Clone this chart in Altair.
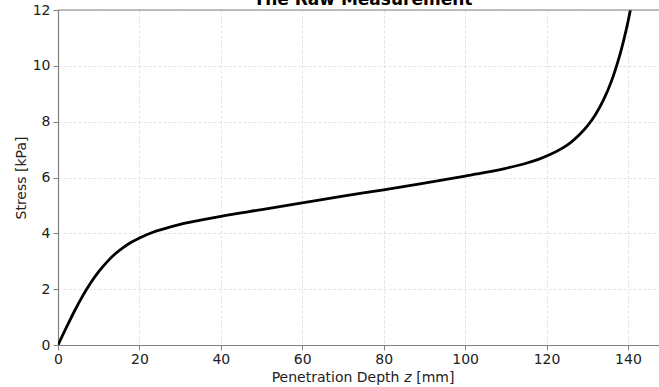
import altair as alt
import pandas as pd

# Data
depth_mm = [0, 2, 4, 6, 8, 10, 12, 14, 16, 18, 20, 23, 26, 30, 35, 40, 50, 60, 70, 80,
            90, 100, 105, 110, 115, 118, 121, 124, 126, 128, 130, 132, 134, 136, 137,
            138, 139, 140, 141]
stress_kpa = [0, 0.61, 1.20, 1.74, 2.22, 2.63, 2.97, 3.26, 3.49, 3.68, 3.83, 4.02, 4.16,
              4.32, 4.47, 4.61, 4.85, 5.09, 5.33, 5.56, 5.80, 6.05, 6.18, 6.33, 6.51, 6.65,
              6.83, 7.06, 7.26, 7.52, 7.84, 8.25, 8.78, 9.47, 9.90, 10.38, 10.94, 11.57, 12.3]
x_ticks = [0, 20, 40, 60, 80, 100, 120, 140]
y_ticks = [0, 2, 4, 6, 8, 10, 12]
title_text = "The Raw Measurement"
xlabel_parts = ["Penetration Depth", "z", "[mm]"]
ylabel = "Stress [kPa]"

df = pd.DataFrame({"z": depth_mm, "s": stress_kpa})

W, H = 601, 335
XMAX = 147.63
FONT = "DejaVu Sans"
SPINE = "#808080"
TXT = "#222222"

x_enc = alt.X("z:Q", scale=alt.Scale(domain=[0, XMAX], nice=False, zero=False),
              axis=alt.Axis(values=x_ticks, title=None, grid=True, gridColor="#dcdcdc",
                            gridDash=[3, 2], gridWidth=0.8, domainColor=SPINE, domainWidth=1.2,
                            tickColor=SPINE, tickSize=5, tickWidth=1, labelFont=FONT,
                            labelFontSize=14, labelColor=TXT, labelPadding=2, labelFlush=False))
y_enc = alt.Y("s:Q", scale=alt.Scale(domain=[0, 12], nice=False),
              axis=alt.Axis(values=y_ticks, title=ylabel, grid=True, gridColor="#dcdcdc",
                            gridDash=[3, 2], gridWidth=0.8, domainColor=SPINE, domainWidth=1.2,
                            tickColor=SPINE, tickSize=5, tickWidth=1, labelFont=FONT,
                            labelFontSize=14, labelColor=TXT, labelPadding=3, labelFlush=False,
                            titleFont=FONT, titleFontSize=14, titleFontWeight="normal",
                            titleColor=TXT, titleAngle=-90, titleX=-32.5, titleY=H / 2,
                            titleBaseline="alphabetic", titleAlign="center"))

line = alt.Chart(df).mark_line(color="black", strokeWidth=2.8, clip=True,
                               interpolate="monotone").encode(x=x_enc, y=y_enc)

top_spine = alt.Chart(pd.DataFrame({"a": [0]})).mark_rule(color=SPINE, strokeWidth=1.2).encode(
    x=alt.value(0), x2=alt.value(W), y=alt.value(0))

title = alt.Chart(pd.DataFrame({"t": [title_text]})).mark_text(
    font=FONT, fontSize=17, fontWeight="bold", color="black", align="center",
    baseline="alphabetic").encode(text="t:N", x=alt.value(305), y=alt.value(-5.5))

# x-axis title with italic z, composed of three pieces
fs = 14
sp = 0.318 * fs
w1 = 9.163 * fs
wz = 0.525 * fs
w3 = 2.728 * fs
total = w1 + sp + wz + sp + w3
start = 305 - total / 2


def piece(text, xpos, style="normal"):
    return alt.Chart(pd.DataFrame({"t": [text]})).mark_text(
        font=FONT, fontSize=fs, fontStyle=style, color=TXT, align="left",
        baseline="alphabetic").encode(text="t:N", x=alt.value(xpos), y=alt.value(372))


xl1 = piece(xlabel_parts[0], start)
xl2 = piece(xlabel_parts[1], start + w1 + sp, "italic")
xl3 = piece(xlabel_parts[2], start + w1 + sp + wz + sp)

chart = alt.layer(line, top_spine, title, xl1, xl2, xl3).properties(
    width=W, height=H,
    autosize=alt.AutoSizeParams(type="none"),
    padding={"left": 58, "top": 10, "right": 0, "bottom": 42},
    background="white",
).configure_view(stroke=None)

chart.save("out.html", embed_options={"renderer": "svg", "actions": False})
